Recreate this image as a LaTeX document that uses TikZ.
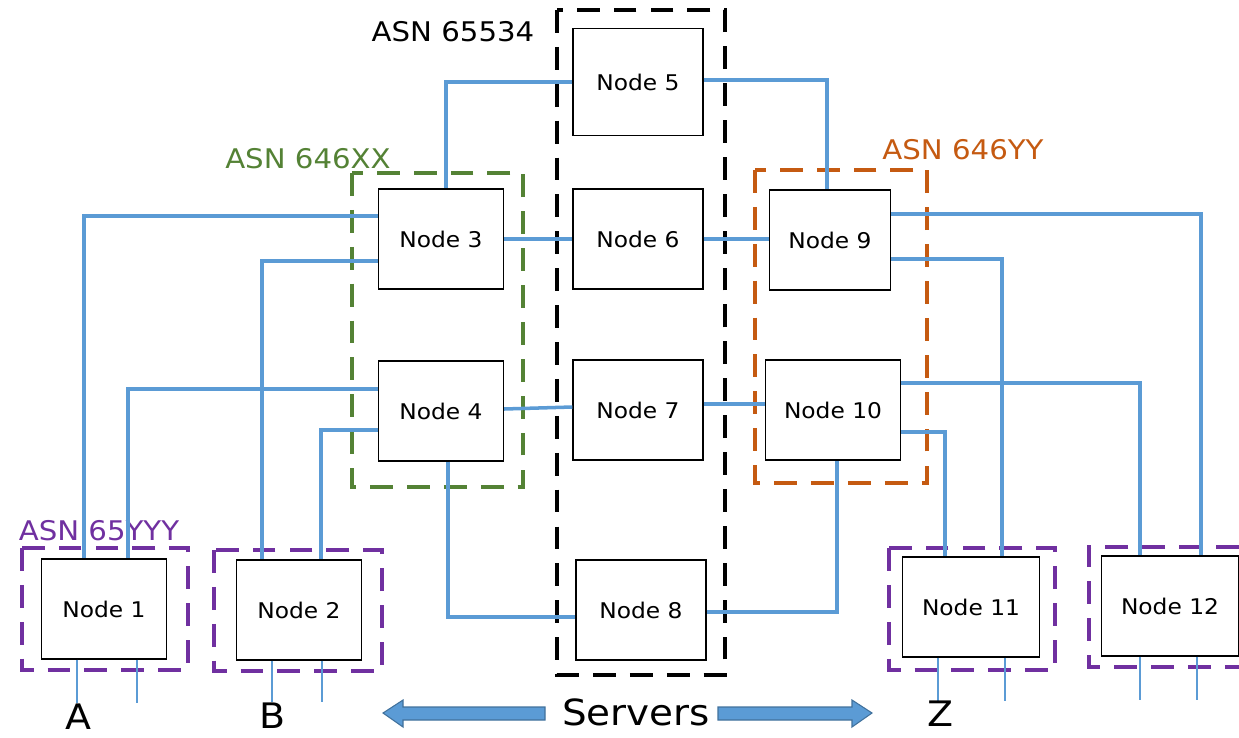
\documentclass[tikz,border=0pt]{standalone}
\usepackage{fontspec}
\setmainfont{DejaVu Sans}[FakeStretch=1.08]
\usepackage{xcolor}
\usetikzlibrary{positioning}

\definecolor{linkblue}{HTML}{5B9BD5}
\definecolor{arrowedge}{HTML}{41719C}
\definecolor{asngreen}{HTML}{548235}
\definecolor{asnorange}{HTML}{C55A11}
\definecolor{asnpurple}{HTML}{7030A0}

\begin{document}
\begin{tikzpicture}[
    x=0.02cm, y=-0.02cm,
    box/.style={rectangle, draw, fill=white, line width=0.7pt, minimum width=2.5cm, minimum height=2cm, align=center, font=\fontsize{12.3}{14}\selectfont},
    link/.style={draw=linkblue, line width=2pt},
    stub/.style={draw=linkblue, line width=1.6pt},
    asnbox/.style={dashed, line width=2.2pt, dash pattern=on 13pt off 8pt},
    asnlabel/.style={font=\fontsize{15.4}{17}\selectfont},
    srvarrow/.style={fill=linkblue, draw=arrowedge, line width=0.6pt}
]
\useasboundingbox (0,0) rectangle (1239,737);

% AS groups
\draw[asnbox, black] (557,10) rectangle (725,675);
\draw[asnbox, asngreen] (352,173) rectangle (523,487);
\draw[asnbox, asnorange] (755,170) rectangle (927,483);
\draw[asnbox, asnpurple] (22,548) rectangle (188,670);
\draw[asnbox, asnpurple] (214,550) rectangle (382,671);
\draw[asnbox, asnpurple] (889,548) rectangle (1055,670);
\draw[asnbox, asnpurple] (1239,547) -- (1089,547) -- (1089,667) -- (1239,667);

\node[asnlabel] (asnspine) at (453,32) {ASN 65534};
\node[asnlabel, text=asngreen] (asnleft) at (308,159) {ASN 646XX};
\node[asnlabel, text=asnorange] (asnright) at (963,150) {ASN 646YY};
\node[asnlabel, text=asnpurple] (asnleaf) at (99,531) {ASN 65YYY};

% nodes
\node[box] (n1) at (104,609) {Node 1};
\node[box] (n2) at (299,610) {Node 2};
\node[box] (n3) at (441,239) {Node 3};
\node[box] (n4) at (441,411) {Node 4};
\node[box, minimum width=2.6cm, minimum height=2.14cm] (n5) at (638,82) {Node 5};
\node[box, minimum width=2.6cm] (n6) at (638,239) {Node 6};
\node[box, minimum width=2.6cm] (n7) at (638,410) {Node 7};
\node[box, minimum width=2.6cm] (n8) at (641,610) {Node 8};
\node[box, minimum width=2.42cm] (n9) at (830,240) {Node 9};
\node[box, minimum width=2.7cm] (n10) at (833,410) {Node 10};
\node[box, minimum width=2.74cm] (n11) at (971,607) {Node 11};
\node[box, minimum width=2.74cm] (n12) at (1170,606) {Node 12};

% links
\draw[link] (n5.west) -| ([xshift=0.1cm]n3.north);
\draw[link] ([yshift=0.04cm]n5.east) -| ([xshift=-0.06cm]n9.north);
\draw[link] ([yshift=0.46cm]n3.west) -| ([xshift=-0.4cm]n1.north);
\draw[link] ([yshift=-0.44cm]n3.west) -| ([xshift=-0.74cm]n2.north);
\draw[link] ([yshift=0.44cm]n4.west) -| ([xshift=0.48cm]n1.north);
\draw[link] ([yshift=-0.38cm]n4.west) -| ([xshift=0.44cm]n2.north);
\draw[link] (n3.east) -- (n6.west);
\draw[link] (n6.east) -- ([yshift=0.02cm]n9.west);
\draw[link] ([yshift=0.04cm]n4.east) -- ([yshift=0.06cm]n7.west);
\draw[link] ([yshift=0.12cm]n7.east) -- ([yshift=0.12cm]n10.west);
\draw[link] ([xshift=0.14cm]n4.south) |- ([yshift=-0.14cm]n8.west);
\draw[link] ([yshift=-0.04cm]n8.east) -| ([xshift=0.08cm]n10.south);
\draw[link] ([yshift=0.52cm]n9.east) -| ([xshift=0.62cm]n12.north);
\draw[link] ([yshift=-0.38cm]n9.east) -| ([xshift=0.62cm]n11.north);
\draw[link] ([yshift=0.54cm]n10.east) -| ([xshift=-0.6cm]n12.north);
\draw[link] ([yshift=-0.44cm]n10.east) -| ([xshift=-0.52cm]n11.north);

% server stubs
\draw[stub] ([xshift=-0.54cm]n1.south) -- ++(0cm,-0.86cm);
\draw[stub] ([xshift=0.66cm]n1.south) -- ++(0cm,-0.86cm);
\draw[stub] ([xshift=-0.54cm]n2.south) -- ++(0cm,-0.82cm);
\draw[stub] ([xshift=0.46cm]n2.south) -- ++(0cm,-0.82cm);
\draw[stub] ([xshift=-0.66cm]n11.south) -- ++(0cm,-0.86cm);
\draw[stub] ([xshift=0.68cm]n11.south) -- ++(0cm,-0.86cm);
\draw[stub] ([xshift=-0.6cm]n12.south) -- ++(0cm,-0.86cm);
\draw[stub] ([xshift=0.54cm]n12.south) -- ++(0cm,-0.86cm);

\node[font=\fontsize{20}{22}\selectfont] (labA) at (78,717) {A};
\node[font=\fontsize{20}{22}\selectfont] (labB) at (273,716) {B};
\node[font=\fontsize{20}{22}\selectfont] (labZ) at (940,714) {Z};

% servers
\node[font=\fontsize{20.5}{22}\selectfont] (srv) at (636,712) {Servers};
\filldraw[srvarrow] (383,713) -- (403,700) -- (403,707) -- (545,707) -- (545,720) -- (403,720) -- (403,727) -- cycle;
\filldraw[srvarrow] (872,713) -- (852,700) -- (852,707) -- (718,707) -- (718,720) -- (852,720) -- (852,727) -- cycle;
\end{tikzpicture}
\end{document}
